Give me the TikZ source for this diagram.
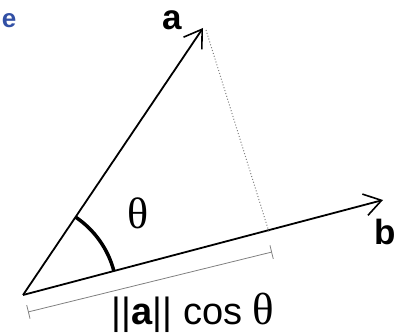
\documentclass[tikz,border=0pt]{standalone}
\usepackage{fontspec}
\setmainfont{Liberation Sans}
\newfontfamily\thetafont{Liberation Serif}
\usetikzlibrary{arrows.meta, calc}
\definecolor{panelblue}{RGB}{50, 80, 165}

\begin{document}
\begin{tikzpicture}[x=1pt, y=1pt,
  vec/.style={-{Straight Barb[length=17pt, width=22pt, line width=1.6pt]}, line width=1.8pt},
  lbl/.style={font=\fontsize{35}{37}\selectfont\bfseries, inner sep=0pt},
  dim/.style={{Bar[width=14pt]}-{Bar[width=14pt]}, line width=0.8pt, gray},
]
  \useasboundingbox (0,0) rectangle (402,335);

  % Points
  \coordinate (o) at (23,40);
  \coordinate (atip) at (203,307);
  \coordinate (btip) at (383,135);
  \coordinate (proj) at (269,103);
  \coordinate (dimL) at (28,23);
  \coordinate (dimR) at (272,83);

  % Vectors
  \draw[vec] (o) -- (atip);
  \draw[vec] (o) -- (btip);

  % Projection
  \draw[dotted, gray, line width=1pt] ($(atip)+(3,-2)$) -- (proj);
  \draw[dim] (dimL) -- (dimR);

  % Angle
  \draw[line width=3.5pt] (o) ++(14.8:94) arc[start angle=14.8, end angle=56, radius=94pt];

  % Labels
  \node[lbl, text=panelblue, font=\fontsize{26}{28}\selectfont\bfseries] (panel) at (9,314) {e};
  \node[lbl] (alabel) at (172,315) {a};
  \node[lbl] (blabel) at (385,103) {b};
  \node[inner sep=0pt, font=\fontsize{44}{46}\selectfont\thetafont] (theta) at (138,122) {θ};
  \node[inner sep=0pt, font=\fontsize{38}{40}\selectfont] (proj label) at (193,22)
    {||\textbf{a}|| cos {\fontsize{45}{46}\selectfont\thetafont θ}};
\end{tikzpicture}
\end{document}
